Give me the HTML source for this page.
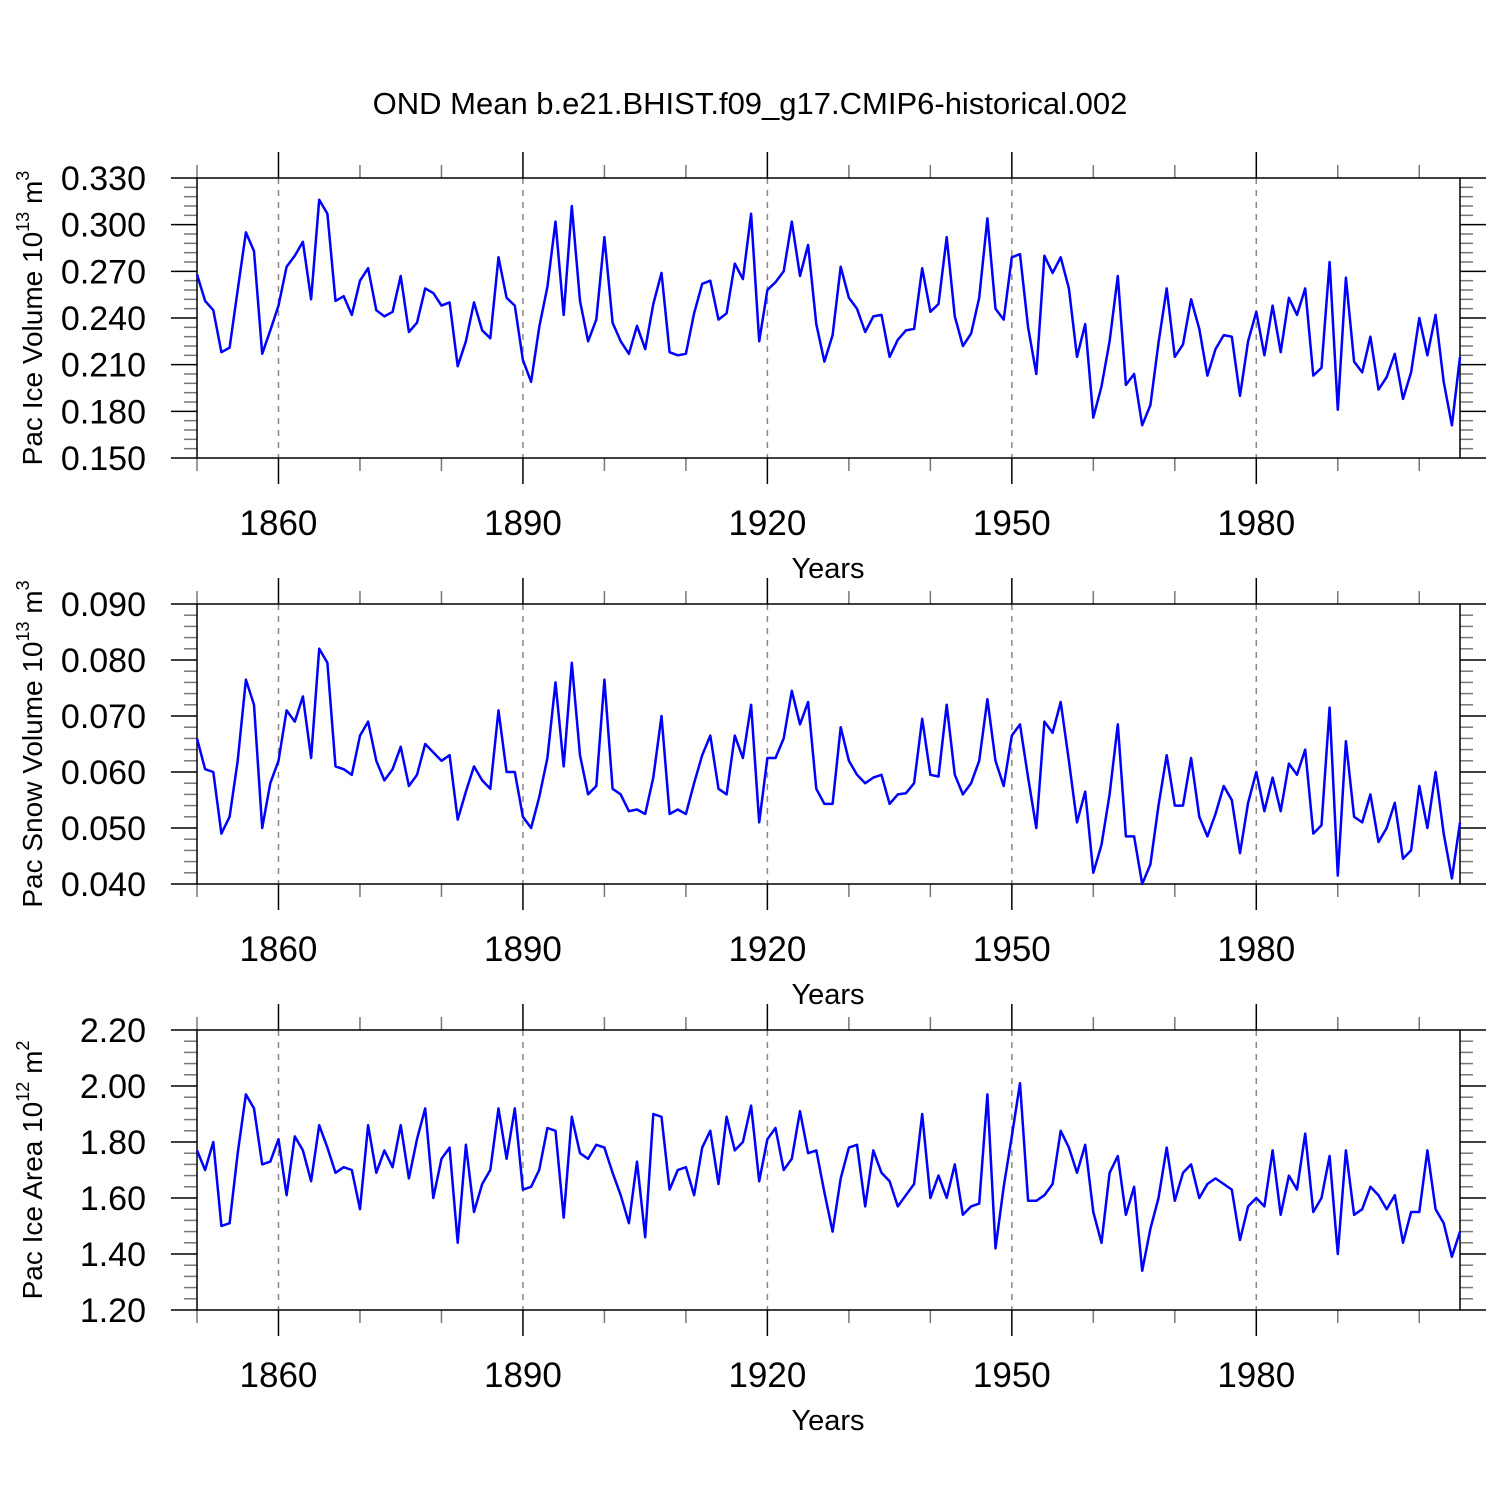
<!DOCTYPE html>
<html><head><meta charset="utf-8"><style>
body{margin:0;background:#fff}
svg text{font-family:"Liberation Sans",sans-serif;fill:#000}
</style></head><body>
<svg id="chart" width="1500" height="1500" xmlns="http://www.w3.org/2000/svg">
<rect width="1500" height="1500" fill="#fff"/>
<text x="750" y="114" font-size="31" text-anchor="middle">OND Mean b.e21.BHIST.f09_g17.CMIP6-historical.002</text>
</svg>
<script>
const years = [];
for (let y = 1850; y <= 2005; y++) years.push(y);
const iceVolume = [0.268,0.251,0.245,0.218,0.221,0.258,0.295,0.283,0.217,0.232,0.248,0.273,0.280,0.289,0.252,0.316,0.307,0.251,0.254,0.242,0.264,0.272,0.245,0.241,0.244,0.267,0.231,0.237,0.259,0.256,0.248,0.250,0.209,0.225,0.250,0.232,0.227,0.279,0.253,0.248,0.213,0.199,0.234,0.260,0.302,0.242,0.312,0.251,0.225,0.239,0.292,0.237,0.225,0.217,0.235,0.220,0.249,0.269,0.218,0.216,0.217,0.243,0.262,0.264,0.239,0.243,0.275,0.265,0.307,0.225,0.258,0.263,0.270,0.302,0.267,0.287,0.236,0.212,0.229,0.273,0.253,0.246,0.231,0.241,0.242,0.215,0.226,0.232,0.233,0.272,0.244,0.249,0.292,0.241,0.222,0.230,0.253,0.304,0.246,0.239,0.279,0.281,0.234,0.204,0.280,0.269,0.279,0.259,0.215,0.236,0.176,0.196,0.225,0.267,0.197,0.204,0.171,0.184,0.224,0.259,0.215,0.223,0.252,0.233,0.203,0.220,0.229,0.228,0.190,0.225,0.244,0.216,0.248,0.218,0.253,0.242,0.259,0.203,0.208,0.276,0.181,0.266,0.212,0.205,0.228,0.194,0.202,0.217,0.188,0.205,0.240,0.216,0.242,0.199,0.171,0.215];
const snowVolume = [0.066,0.0605,0.060,0.049,0.052,0.062,0.0765,0.072,0.050,0.058,0.062,0.071,0.069,0.0735,0.0625,0.082,0.0795,0.061,0.0605,0.0595,0.0665,0.069,0.062,0.0585,0.0605,0.0645,0.0575,0.0595,0.065,0.0635,0.062,0.063,0.0515,0.0565,0.061,0.0585,0.057,0.071,0.060,0.060,0.052,0.050,0.0555,0.0625,0.076,0.061,0.0795,0.063,0.056,0.0575,0.0765,0.057,0.056,0.053,0.0533,0.0525,0.059,0.070,0.0525,0.0533,0.0525,0.058,0.063,0.0665,0.057,0.056,0.0665,0.0625,0.072,0.051,0.0625,0.0625,0.066,0.0745,0.0685,0.0725,0.057,0.0543,0.0543,0.068,0.062,0.0595,0.058,0.059,0.0595,0.0543,0.056,0.0562,0.058,0.0695,0.0595,0.0592,0.072,0.0595,0.056,0.058,0.062,0.073,0.062,0.0575,0.0665,0.0685,0.059,0.050,0.069,0.067,0.0725,0.062,0.051,0.0565,0.042,0.047,0.056,0.0685,0.0485,0.0485,0.040,0.0435,0.054,0.063,0.054,0.054,0.0625,0.052,0.0485,0.0525,0.0575,0.055,0.0455,0.0545,0.060,0.053,0.059,0.053,0.0615,0.0595,0.064,0.049,0.0505,0.0715,0.0415,0.0655,0.052,0.051,0.056,0.0475,0.050,0.0545,0.0445,0.046,0.0575,0.050,0.060,0.049,0.041,0.051];
const iceArea = [1.77,1.70,1.80,1.50,1.51,1.76,1.97,1.92,1.72,1.73,1.81,1.61,1.82,1.77,1.66,1.86,1.78,1.69,1.71,1.70,1.56,1.86,1.69,1.77,1.71,1.86,1.67,1.81,1.92,1.60,1.74,1.78,1.44,1.79,1.55,1.65,1.70,1.92,1.74,1.92,1.63,1.64,1.70,1.85,1.84,1.53,1.89,1.76,1.74,1.79,1.78,1.69,1.61,1.51,1.73,1.46,1.90,1.89,1.63,1.70,1.71,1.61,1.78,1.84,1.65,1.89,1.77,1.80,1.93,1.66,1.81,1.85,1.70,1.74,1.91,1.76,1.77,1.62,1.48,1.67,1.78,1.79,1.57,1.77,1.69,1.66,1.57,1.61,1.65,1.90,1.60,1.68,1.60,1.72,1.54,1.57,1.58,1.97,1.42,1.64,1.82,2.01,1.59,1.59,1.61,1.65,1.84,1.78,1.69,1.79,1.55,1.44,1.69,1.75,1.54,1.64,1.34,1.49,1.60,1.78,1.59,1.69,1.72,1.60,1.65,1.67,1.65,1.63,1.45,1.57,1.60,1.57,1.77,1.54,1.68,1.63,1.83,1.55,1.60,1.75,1.40,1.77,1.54,1.56,1.64,1.61,1.56,1.61,1.44,1.55,1.55,1.77,1.56,1.51,1.39,1.48];
const xLabels = [1860,1890,1920,1950,1980];
const iceVolTicks = ["0.150","0.180","0.210","0.240","0.270","0.300","0.330"];
const snowTicks = ["0.040","0.050","0.060","0.070","0.080","0.090"];
const areaTicks = ["1.20","1.40","1.60","1.80","2.00","2.20"];

const NS = "http://www.w3.org/2000/svg";
const svg = document.getElementById('chart');
const L = 197, R = 1460;
const xs = y => L + (y - 1850) / (2005 - 1850) * (R - L);
function mk(tag, attrs, parent) {
  const e = document.createElementNS(NS, tag);
  for (const k in attrs) e.setAttribute(k, attrs[k]);
  (parent || svg).appendChild(e); return e;
}
function panel(name, top, bottom, ticks, minorPer, data, title, sup, unitSup) {
  const g = mk('g', {});
  
  
  const lo = parseFloat(ticks[0]), hi = parseFloat(ticks[ticks.length - 1]);
  const ys = v => bottom - (v - lo) / (hi - lo) * (bottom - top);
  xLabels.forEach(yr => {
    const gl = mk('line', {x1: xs(yr), x2: xs(yr), y1: top, y2: bottom, stroke: '#888', 'stroke-width': 1.5, 'stroke-dasharray': '6,6'}, g);
    
    
  });
  for (let yr = 1850; yr <= 2000; yr += 10) {
    const major = xLabels.includes(yr);
    const len = major ? 26 : 13;
    const c = major ? '#000' : '#777';
    mk('line', {x1: xs(yr), x2: xs(yr), y1: bottom, y2: bottom + len, stroke: c, 'stroke-width': 1.5}, g);
    mk('line', {x1: xs(yr), x2: xs(yr), y1: top, y2: top - len, stroke: c, 'stroke-width': 1.5}, g);
  }
  xLabels.forEach(yr => {
    const t = mk('text', {x: xs(yr), y: bottom + 77, 'font-size': 35, 'text-anchor': 'middle'}, g);
    t.textContent = yr;
    
    
  });
  const n = ticks.length - 1, step = (hi - lo) / n;
  for (let i = 0; i <= n; i++) {
    const v = lo + i * step, y = ys(v);
    mk('line', {x1: L - 26, x2: L, y1: y, y2: y, stroke: '#000', 'stroke-width': 1.5}, g);
    mk('line', {x1: R, x2: R + 26, y1: y, y2: y, stroke: '#000', 'stroke-width': 1.5}, g);
    const t = mk('text', {x: 146, y: y + 12, 'font-size': 34, 'text-anchor': 'end'}, g);
    t.textContent = ticks[i];
    
    
    if (i < n) for (let j = 1; j < minorPer; j++) {
      const my = ys(v + step * j / minorPer);
      mk('line', {x1: L - 13, x2: L, y1: my, y2: my, stroke: '#777', 'stroke-width': 1.5}, g);
      mk('line', {x1: R, x2: R + 13, y1: my, y2: my, stroke: '#777', 'stroke-width': 1.5}, g);
    }
  }
  const fr = mk('rect', {x: L, y: top, width: R - L, height: bottom - top, fill: 'none', stroke: '#000', 'stroke-width': 1.5}, g);
  
  
  const pts = data.map((v, i) => xs(years[i]).toFixed(1) + ',' + ys(v).toFixed(1)).join(' ');
  const pl = mk('polyline', {points: pts, fill: 'none', stroke: '#0000ff', 'stroke-width': 2.5, 'stroke-linejoin': 'round'}, g);
  
  
  const xt = mk('text', {x: 828, y: bottom + 120, 'font-size': 29, 'text-anchor': 'middle'}, g);
  xt.textContent = 'Years';
  
  
  const cy = (top + bottom) / 2;
  const yt = mk('text', {x: 0, y: 0, 'font-size': 28, 'text-anchor': 'middle', transform: `translate(42,${cy}) rotate(-90)`}, g);
  
  
  yt.innerHTML = `${title} 10<tspan font-size="18" dy="-13">${sup}</tspan><tspan dy="13"> m</tspan><tspan font-size="18" dy="-13">${unitSup}</tspan>`;
}
panel('ice-volume', 178, 458, iceVolTicks, 5, iceVolume, 'Pac Ice Volume', '13', '3');
panel('snow-volume', 604, 884, snowTicks, 5, snowVolume, 'Pac Snow Volume', '13', '3');
panel('ice-area', 1030, 1310, areaTicks, 5, iceArea, 'Pac Ice Area', '12', '2');
</script>
</body></html>
